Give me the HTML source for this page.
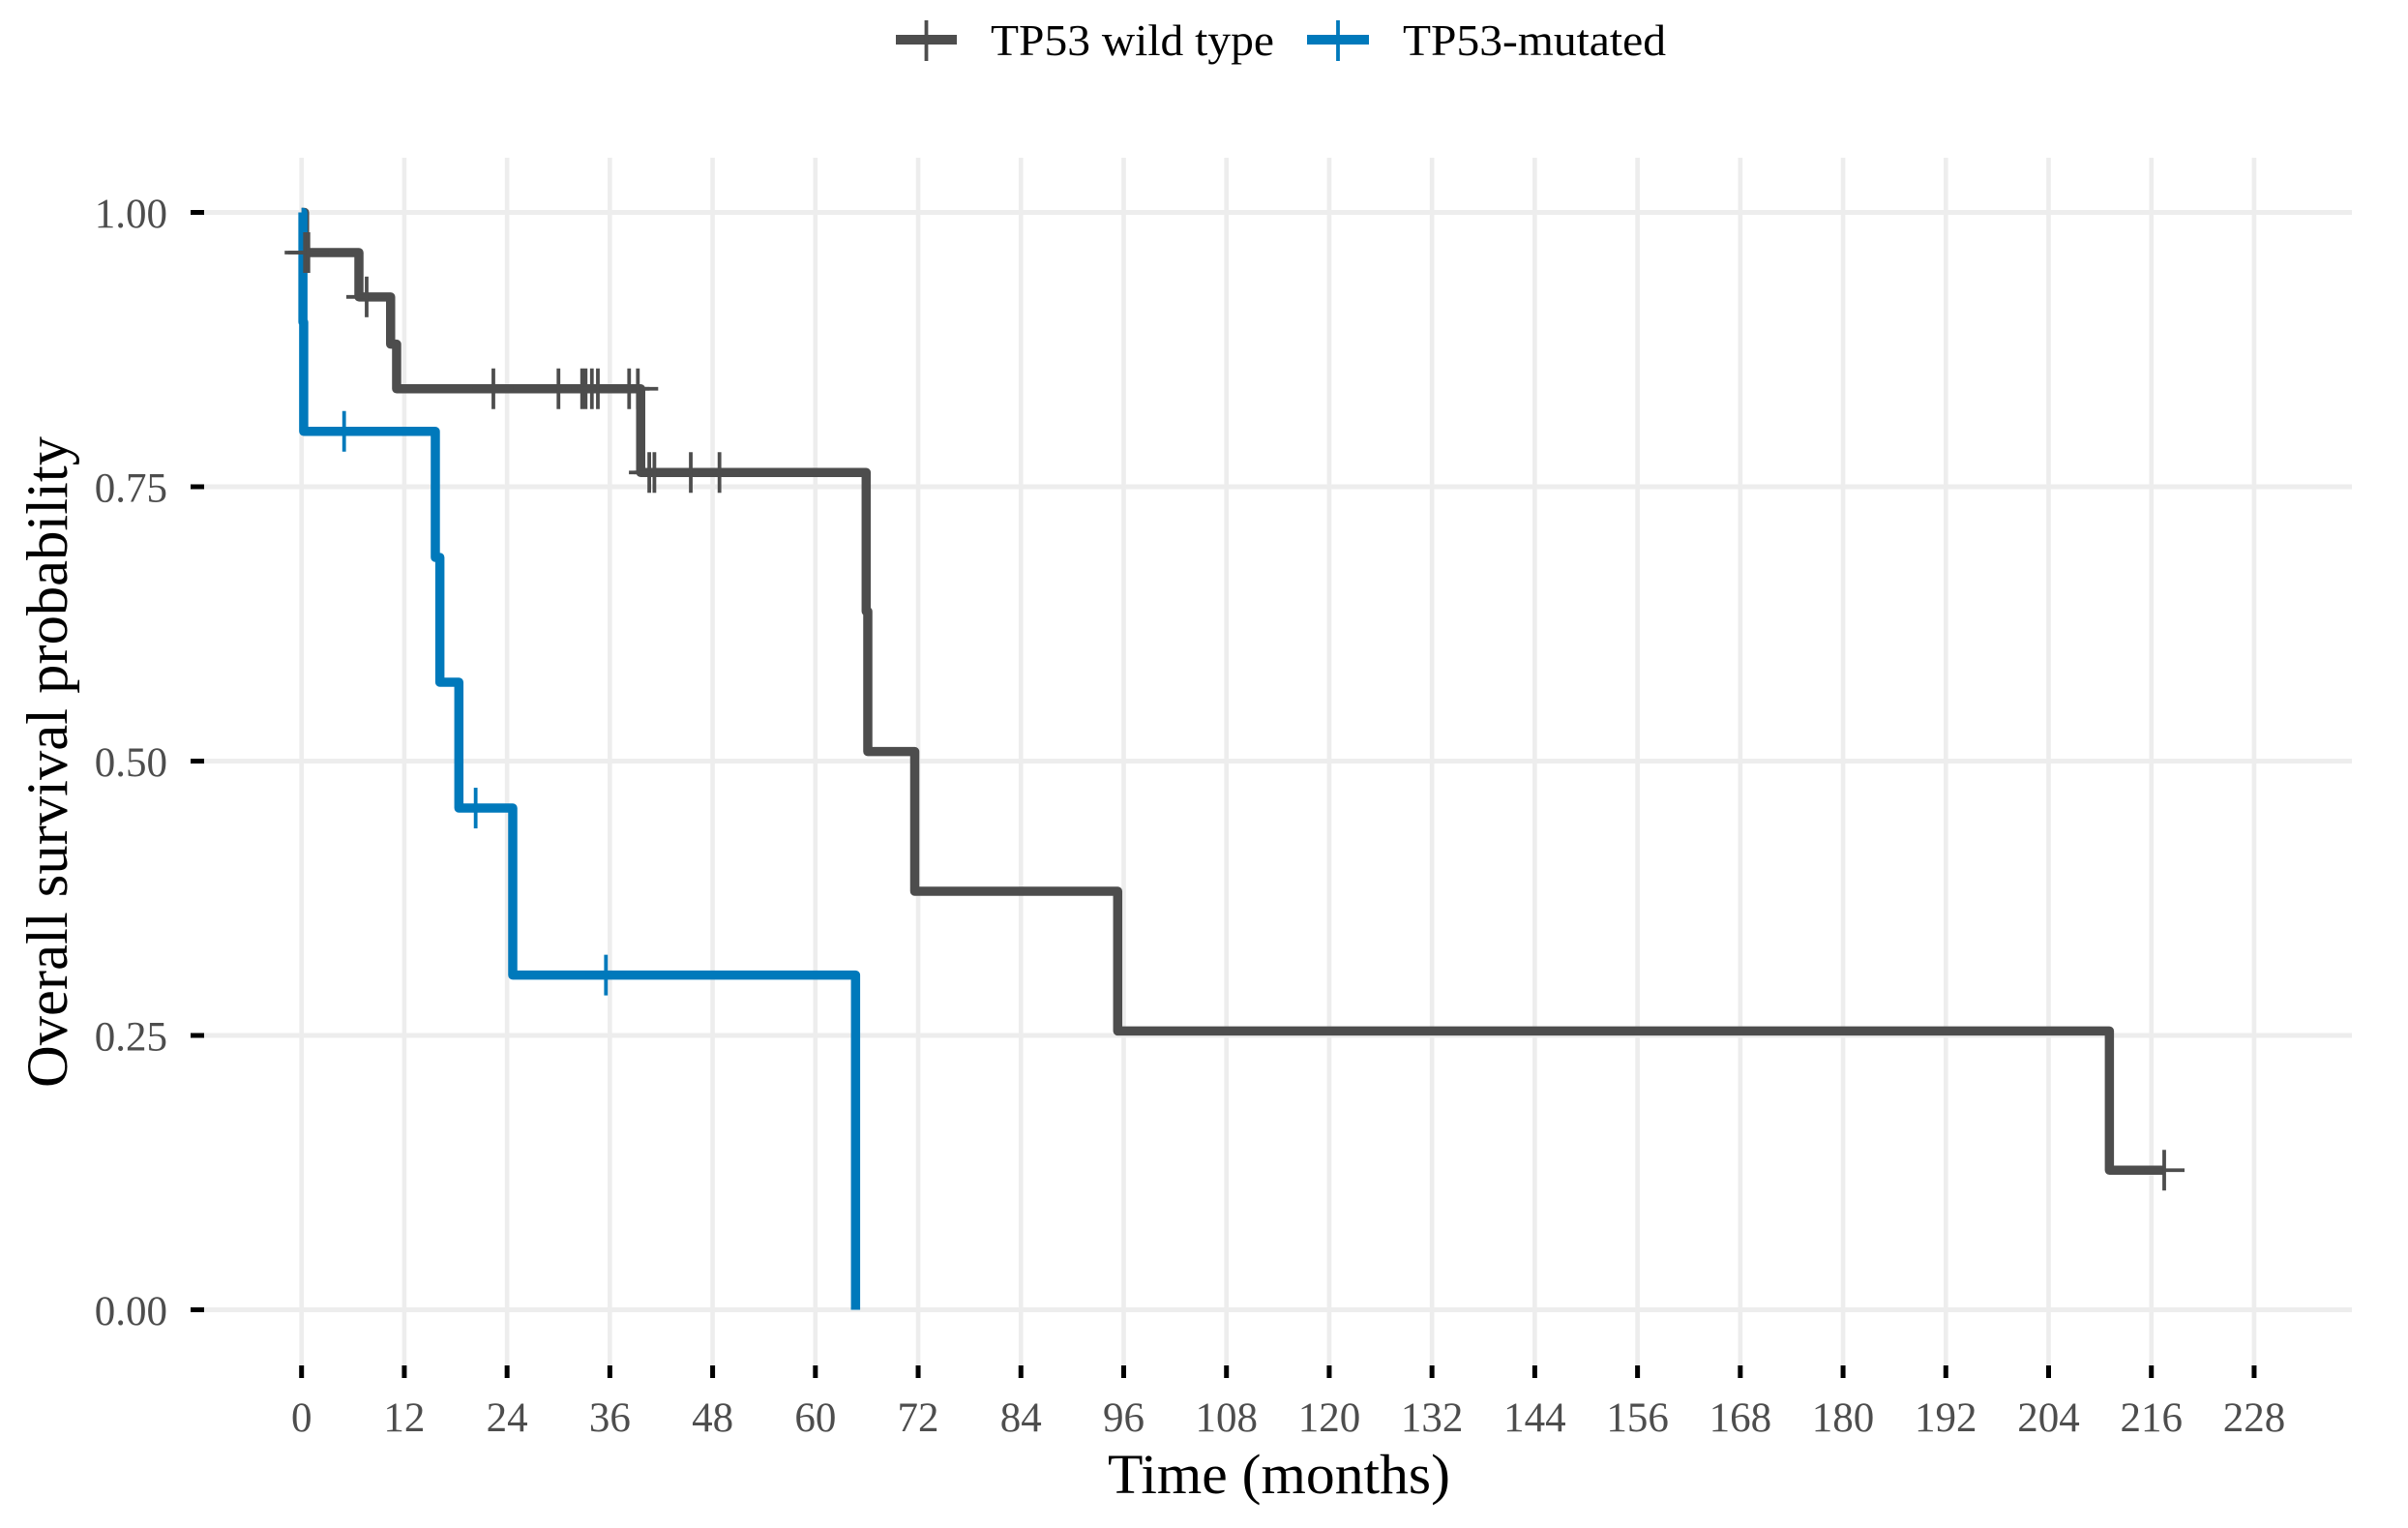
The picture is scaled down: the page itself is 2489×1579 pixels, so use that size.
<!DOCTYPE html>
<html lang="en">
<head>
<meta charset="utf-8">
<title>Overall survival by TP53 status</title>
<style>
html,body{margin:0;padding:0;background:#fff;}
svg{display:block;font-family:"Liberation Serif",serif;}
</style>
</head>
<body>
<svg id="chart" xmlns="http://www.w3.org/2000/svg" width="2489" height="1579" viewBox="0 0 2489 1579">
  <rect x="0" y="0" width="2489" height="1579" fill="#ffffff"/>
  <g id="grid"></g>
  <g id="ticks"></g>
  <g id="series"></g>
  <g>
    <g>
      <line x1="926" x2="989" y1="41" y2="41" stroke="#4d4d4d" stroke-width="10"/>
      <line x1="957.5" x2="957.5" y1="21" y2="63" stroke="#4d4d4d" stroke-width="3.8"/>
      <text x="1024" y="57" font-size="46" fill="#000" textLength="293" lengthAdjust="spacingAndGlyphs">TP53 wild type</text>
    </g>
    <g>
      <line x1="1351" x2="1415" y1="41" y2="41" stroke="#0079bb" stroke-width="10"/>
      <line x1="1383" x2="1383" y1="21" y2="63" stroke="#0079bb" stroke-width="3.8"/>
      <text x="1450" y="57" font-size="46" fill="#000" textLength="272" lengthAdjust="spacingAndGlyphs">TP53-mutated</text>
    </g>
  </g>
  <text x="1145" y="1543" font-size="58" fill="#000" textLength="354" lengthAdjust="spacingAndGlyphs">Time (months)</text>
  <text transform="translate(69,1124) rotate(-90)" x="0" y="0" font-size="60" fill="#000" textLength="673" lengthAdjust="spacingAndGlyphs">Overall survival probability</text>
</svg>
<script>
var xTickValues = [0,12,24,36,48,60,72,84,96,108,120,132,144,156,168,180,192,204,216,228];
var yTickValues = [0,0.25,0.5,0.75,1];
var yTickLabels = ["0.00","0.25","0.50","0.75","1.00"];

var wildTypeTimes = [0,0.35,6.7,10.4,11.1,39.6,65.93,66.12,71.6,95.3,211.1];
var wildTypeSurvival = [1,0.9634,0.923,0.88,0.8393,0.763,0.6365,0.5087,0.3814,0.2541,0.1272];
var wildTypeEnd = 217.5;
var wildTypeCensored = [0.4,0.8,7.6,22.4,30,32.76,33.17,33.9,34.6,38.25,39.27,40.6,41.2,45.45,48.8,217.5];

var mutatedTimes = [0,0.16,0.25,15.62,16.15,18.37,24.66,64.69];
var mutatedSurvival = [1,0.9,0.8005,0.6856,0.5719,0.4572,0.305,0];
var mutatedEnd = 64.69;
var mutatedCensored = [4.97,20.33,35.54];

var NS = "http://www.w3.org/2000/svg";
function sx(t){ return 311.7 + 8.852 * t; }
function sy(s){ return 1353.5 - 1134 * s; }
var panel = {left:211,right:2431,top:163,bottom:1411};

function makeLine(parent,x1,y1,x2,y2,color,width){
  var l = document.createElementNS(NS,"line");
  l.setAttribute("x1",x1);
  l.setAttribute("y1",y1);
  l.setAttribute("x2",x2);
  l.setAttribute("y2",y2);
  l.setAttribute("stroke",color);
  l.setAttribute("stroke-width",width);
  parent.appendChild(l);
  return l;
}
function makeText(parent,x,y,str,anchor){
  var t = document.createElementNS(NS,"text");
  t.setAttribute("x",x);
  t.setAttribute("y",y);
  t.setAttribute("font-size","43");
  t.setAttribute("fill","#4d4d4d");
  t.setAttribute("text-anchor",anchor);
  t.textContent = str;
  parent.appendChild(t);
  return t;
}
var grid = document.getElementById("grid");
var ticks = document.getElementById("ticks");

xTickValues.forEach(function(v){
  var g = makeLine(grid,sx(v),panel.top,sx(v),panel.bottom,"#ededed",4.6);
  
  
  var m = makeLine(ticks,sx(v),panel.bottom,sx(v),1424,"#000000",5);
  
  
  var t = makeText(ticks,sx(v),1479,String(v),"middle");
  
  
});
yTickValues.forEach(function(v,i){
  var g = makeLine(grid,panel.left,sy(v),panel.right,sy(v),"#ededed",5);
  
  
  var m = makeLine(ticks,197,sy(v),panel.left,sy(v),"#000000",5);
  
  
  var t = makeText(ticks,173,sy(v)+15.5,yTickLabels[i],"end");
  
  
});

function stepPath(times,surv,end){
  var d = "M" + sx(times[0]) + " " + sy(surv[0]);
  for(var i=1;i<times.length;i++){
    d += " H" + sx(times[i]) + " V" + sy(surv[i]);
  }
  if(end > times[times.length-1]) d += " H" + sx(end);
  return d;
}
function survivalAt(times,surv,t){
  var s = surv[0];
  for(var i=0;i<times.length;i++){ if(times[i] <= t) s = surv[i]; }
  return s;
}
var seriesGroup = document.getElementById("series");
function drawCurve(times,surv,end,color,name){
  var p = document.createElementNS(NS,"path");
  p.setAttribute("d",stepPath(times,surv,end));
  p.setAttribute("fill","none");
  p.setAttribute("stroke",color);
  p.setAttribute("stroke-width","9.5");
  p.setAttribute("stroke-linejoin","round");
  
  
  seriesGroup.appendChild(p);
}
function drawCensors(times,surv,censored,color,name){
  censored.forEach(function(t){
    var x = sx(t), y = sy(survivalAt(times,surv,t));
    var g = document.createElementNS(NS,"g");
    
    
    makeLine(g,x-21,y,x+21,y,color,3.8);
    makeLine(g,x,y-21,x,y+21,color,3.8);
    seriesGroup.appendChild(g);
  });
}
drawCurve(wildTypeTimes,wildTypeSurvival,wildTypeEnd,"#4d4d4d","curve-wild-type");
drawCurve(mutatedTimes,mutatedSurvival,mutatedEnd,"#0079bb","curve-mutated");
drawCensors(wildTypeTimes,wildTypeSurvival,wildTypeCensored,"#4d4d4d","censor-mark-wild-type");
drawCensors(mutatedTimes,mutatedSurvival,mutatedCensored,"#0079bb","censor-mark-mutated");
</script>
</body>
</html>
